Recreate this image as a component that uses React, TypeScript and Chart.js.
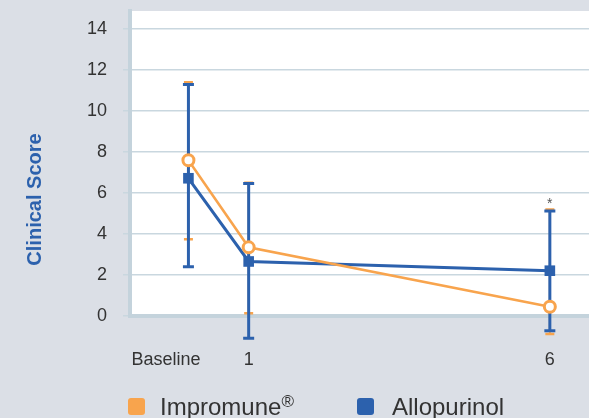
import React, { useEffect, useRef } from "react";
import { Chart, registerables } from "chart.js";

Chart.register(...registerables);

// ---- data ----
const weekValues = [0, 1, 6];
const weekLabels = ["Baseline", "1", "6"];
const yTicks = [0, 2, 4, 6, 8, 10, 12, 14];

const impromuneMean = [7.6, 3.35, 0.45];
const impromuneUpper = [11.4, 6.5, 5.2];
const impromuneLower = [3.75, 0.13, -0.88];

const allopurinolMean = [6.72, 2.66, 2.21];
const allopurinolUpper = [11.3, 6.47, 5.12];
const allopurinolLower = [2.4, -1.08, -0.72];

const significance = ["", "", "*"];

const seriesNames = ["Impromune", "Allopurinol"];
const axisTitle = "Clinical Score";

// ---- styles ----
const ORANGE = "#f8a44d";
const BLUE = "#2c61ad";
const BG = "#dbdfe6";
const AXIS = "#c4d3dc";
const GRID = "#c9d7df";
const TEXT = "#333333";
const FONT = "'Liberation Sans', Arial, sans-serif";

const errorBars = [
  { upper: impromuneUpper, lower: impromuneLower, color: ORANGE, lw: 2, cap: 9, capLw: 2.5 },
  { upper: allopurinolUpper, lower: allopurinolLower, color: BLUE, lw: 3, cap: 11, capLw: 3 },
];

const errorBarPlugin = {
  id: "errorBars",
  beforeDraw(chart: any) {
    const { ctx, chartArea } = chart;
    ctx.save();
    ctx.fillStyle = "#ffffff";
    ctx.fillRect(chartArea.left, chartArea.top, chartArea.right - chartArea.left, chartArea.bottom - chartArea.top);
    ctx.restore();
  },
  beforeDatasetsDraw(chart: any) {
    const { ctx, scales } = chart;
    const xs = scales.x;
    const ys = scales.y;
    ctx.save();
    errorBars.forEach((eb) => {
      weekValues.forEach((wv, i) => {
        const x = xs.getPixelForValue(wv);
        const yt = ys.getPixelForValue(eb.upper[i]);
        const yb = ys.getPixelForValue(eb.lower[i]);
        ctx.strokeStyle = eb.color;
        ctx.lineWidth = eb.lw;
        ctx.beginPath();
        ctx.moveTo(x, yt);
        ctx.lineTo(x, yb);
        ctx.stroke();
        ctx.lineWidth = eb.capLw;
        ctx.beginPath();
        ctx.moveTo(x - eb.cap / 2, yt);
        ctx.lineTo(x + eb.cap / 2, yt);
        ctx.moveTo(x - eb.cap / 2, yb);
        ctx.lineTo(x + eb.cap / 2, yb);
        ctx.stroke();
      });
    });
    ctx.restore();
  },
  afterDatasetsDraw(chart: any) {
    const { ctx, scales } = chart;
    ctx.save();
    ctx.fillStyle = "#555555";
    ctx.font = `14px ${FONT}`;
    ctx.textAlign = "center";
    ctx.textBaseline = "alphabetic";
    weekValues.forEach((wv, i) => {
      if (!significance[i]) return;
      const x = scales.x.getPixelForValue(wv);
      const top = Math.max(impromuneUpper[i], allopurinolUpper[i]);
      const y = scales.y.getPixelForValue(top) - 1;
      ctx.fillText(significance[i], x, y);
    });
    ctx.restore();
  },
  afterDraw(chart: any) {
    const { ctx, chartArea } = chart;
    ctx.save();
    ctx.translate(chartArea.left - 95, (chartArea.top + chartArea.bottom) / 2 + 36);
    ctx.rotate(-Math.PI / 2);
    ctx.fillStyle = BLUE;
    ctx.font = `bold 20px ${FONT}`;
    ctx.textAlign = "center";
    ctx.textBaseline = "middle";
    ctx.fillText(axisTitle, 0, 0);
    ctx.restore();
  },
};

export default function App() {
  const ref = useRef<HTMLCanvasElement | null>(null);

  useEffect(() => {
    if (!ref.current) return;
    const chart = new Chart(ref.current, {
      type: "line",
      data: {
        datasets: [
          {
            label: seriesNames[0],
            data: weekValues.map((x, i) => ({ x, y: impromuneMean[i] })),
            borderColor: ORANGE,
            borderWidth: 2.5,
            pointStyle: "circle",
            pointRadius: 5.5,
            pointBorderWidth: 3,
            pointBorderColor: ORANGE,
            pointBackgroundColor: "#ffffff",
            tension: 0,
          },
          {
            label: seriesNames[1],
            data: weekValues.map((x, i) => ({ x, y: allopurinolMean[i] })),
            borderColor: BLUE,
            borderWidth: 3,
            pointStyle: "rect",
            pointRadius: 7.5,
            pointBorderWidth: 0,
            pointBackgroundColor: BLUE,
            pointBorderColor: BLUE,
            tension: 0,
          },
        ],
      },
      options: {
        responsive: false,
        animation: false,
        devicePixelRatio: 1,
        layout: { autoPadding: false, padding: { top: 11, left: 0, right: 0, bottom: 0 } },
        plugins: { legend: { display: false }, tooltip: { enabled: false } },
        scales: {
          x: {
            type: "linear",
            min: -0.97,
            max: 6.65,
            afterBuildTicks: (s: any) => {
              s.ticks = weekValues.map((v) => ({ value: v }));
            },
            afterFit: (s: any) => {
              s.height = 102;
              s.paddingLeft = 0;
              s.paddingRight = 0;
              s.paddingTop = 0;
              s.paddingBottom = 0;
            },
            grid: { display: false, drawTicks: false, tickLength: 0 },
            border: { display: true, color: AXIS, width: 4 },
            ticks: {
              padding: 33,
              color: TEXT,
              font: { family: FONT, size: 18 },
              maxRotation: 0,
              autoSkip: false,
              callback: (v: any) => {
                const i = weekValues.indexOf(Number(v));
                if (i < 0) return "";
                return i === 0 ? weekLabels[i] + "         " : weekLabels[i];
              },
            },
          },
          y: {
            type: "linear",
            min: 0,
            max: 14.88,
            afterBuildTicks: (s: any) => {
              s.ticks = yTicks.map((v) => ({ value: v }));
            },
            afterFit: (s: any) => {
              s.width = 130;
              s.paddingLeft = 0;
              s.paddingRight = 0;
              s.paddingTop = 0;
              s.paddingBottom = 0;
            },
            grid: { color: GRID, lineWidth: 1.5, tickLength: 7, drawTicks: true, tickColor: GRID },
            border: { display: true, color: AXIS, width: 4 },
            ticks: {
              padding: 16,
              color: TEXT,
              font: { family: FONT, size: 18 },
              autoSkip: false,
            },
          },
        },
      },
      plugins: [errorBarPlugin],
    } as any);
    return () => chart.destroy();
  }, []);

  const legendText: React.CSSProperties = {
    position: "absolute",
    top: 395,
    fontFamily: FONT,
    fontSize: 24,
    lineHeight: "24px",
    color: TEXT,
    whiteSpace: "nowrap",
  };
  const sq = (left: number, color: string): React.CSSProperties => ({
    position: "absolute",
    left,
    top: 398,
    width: 17,
    height: 17,
    borderRadius: 3,
    background: color,
  });

  return (
    <div
      style={{
        position: "absolute",
        left: 0,
        top: 0,
        width: 589,
        height: 418,
        background: BG,
        overflow: "hidden",
      }}
    >
      <canvas ref={ref} width={589} height={418} style={{ position: "absolute", left: 0, top: 0 }} />
      <div style={sq(128, ORANGE)} />
      <div style={{ ...legendText, left: 160 }}>
        {seriesNames[0]}
        <sup style={{ fontSize: 17, lineHeight: 0, verticalAlign: 8 }}>®</sup>
      </div>
      <div style={sq(357, BLUE)} />
      <div style={{ ...legendText, left: 392 }}>{seriesNames[1]}</div>
    </div>
  );
}
